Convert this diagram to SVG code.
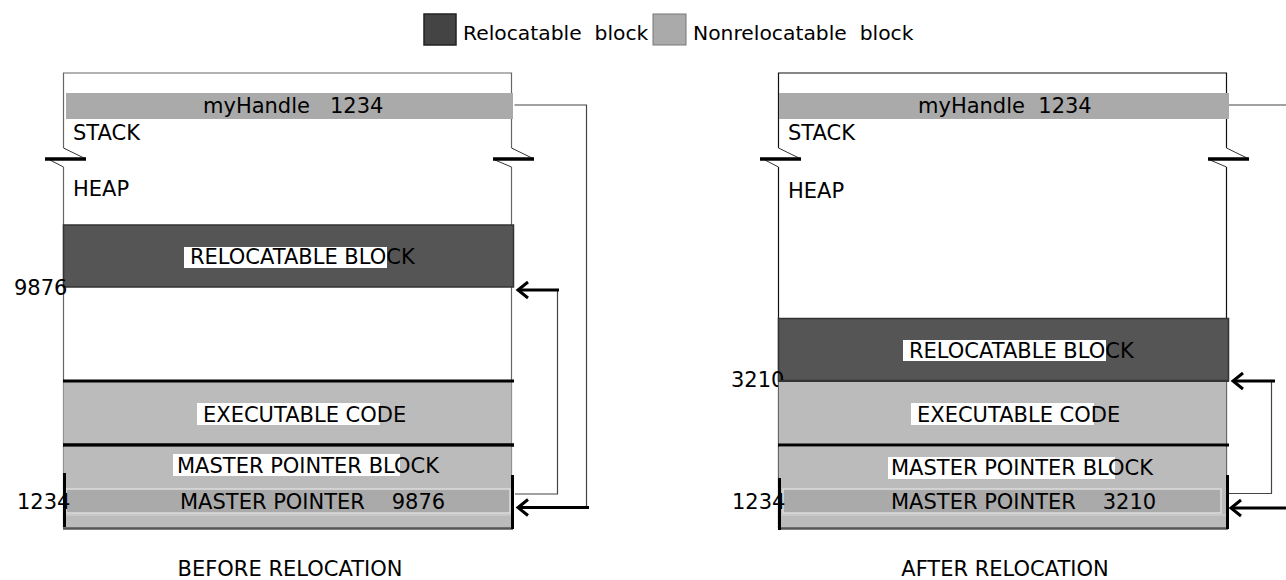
<svg xmlns="http://www.w3.org/2000/svg" width="1286" height="580" viewBox="0 0 1286 580">
<style>
text{font-family:"DejaVu Sans",Verdana,sans-serif;font-size:21px;fill:#000}
.lg{font-size:20.3px}
.edgeL{stroke:#666;stroke-width:1.2;fill:none}
.edgeR{stroke:#111;stroke-width:1.2;fill:none}
.brk{stroke:#000;stroke-width:3.5;fill:none}
.diag{stroke:#333;stroke-width:1;fill:none}
.sep{stroke:#000;stroke-width:3;fill:none}
.thin{stroke:#444;stroke-width:1.2;fill:none}
.arrow{stroke:#000;stroke-width:3;fill:none}
.dark{fill:#555;stroke:#333;stroke-width:1.5}
.light{fill:#bbb}
.band{fill:#aaa}
.row{fill:#aaa;stroke:#ddd;stroke-width:1.5}
.hl{fill:#fff}
.bottom{stroke:#555;stroke-width:2.5;fill:none}
.side{stroke:#000;stroke-width:3;fill:none}
</style>
<defs>
<marker id="ah" markerUnits="userSpaceOnUse" markerWidth="20" markerHeight="20" refX="0" refY="0" viewBox="-12 -10 14 20" orient="auto" overflow="visible">
<path d="M-10,-8 L0,0 L-10,8" fill="none" stroke="#000" stroke-width="3"/>
</marker>
</defs>
<rect width="1286" height="580" fill="#fff"/>

<g id="legend">
<rect x="424" y="14" width="32" height="31" fill="#444" stroke="#222" stroke-width="1.5"/>
<text class="lg" x="463" y="40" xml:space="preserve">Relocatable  block</text>
<rect x="653" y="14" width="33" height="31" fill="#aaa" stroke="#777" stroke-width="1"/>
<text class="lg" x="693" y="40" xml:space="preserve">Nonrelocatable  block</text>
</g>

<!-- BEFORE panel -->
<g id="before-frame">
<path class="edgeL" d="M63.5,148 V73 H511.5 V148"/>
<path class="edgeL" d="M63.5,167 V528 M511.5,167 V528"/>
<path class="diag" d="M63.5,148 L85,158.5 M50,160 L63.5,167"/>
<path class="brk" d="M45,159 H86"/>
<path class="diag" d="M511.5,148 L533,158.5 M495,160 L511.5,167"/>
<path class="brk" d="M493,159 H534"/>
<text x="73" y="140">STACK</text>
<text x="73" y="196">HEAP</text>
</g>
<g id="before-myhandle">
<rect class="band" x="66" y="93" width="447" height="26"/>
<text x="203" y="113" xml:space="preserve">myHandle   1234</text>
</g>
<g id="before-reloc">
<rect class="dark" x="63.5" y="225" width="450" height="62"/>
<rect class="hl" x="184" y="247" width="203" height="21"/>
<text x="190" y="264">RELOCATABLE BLOCK</text>
<text x="14" y="295">9876</text>
</g>
<g id="before-exec">
<rect class="light" x="63.5" y="381" width="448" height="64"/>
<path class="sep" d="M63,381 H514 M63,445 H514"/>
<rect class="hl" x="197" y="403" width="183" height="22"/>
<text x="203" y="422">EXECUTABLE CODE</text>
</g>
<g id="before-mpblock">
<rect class="light" x="63.5" y="446.5" width="448" height="82"/>
<path class="sep" d="M63,445 H514"/>
<path class="bottom" d="M63,528.5 H513"/>
<rect class="hl" x="173" y="454" width="227" height="22"/>
<text x="177" y="473">MASTER POINTER BLOCK</text>
</g>
<g id="before-mp">
<rect class="row" x="66" y="489" width="444" height="24"/>
<path d="M64,515 H511" stroke="#ccc" stroke-width="1.5"/>
<text x="180" y="509" xml:space="preserve">MASTER POINTER    9876</text>
<text x="17" y="509">1234</text>
<path class="side" d="M64.5,473 V527 M512.5,475 V529"/>
</g>
<text id="before-title" x="290" y="576" text-anchor="middle">BEFORE RELOCATION</text>

<!-- AFTER panel -->
<g id="after-frame">
<path class="edgeR" d="M778.5,148 V73 H1226.5 V148"/>
<path class="edgeR" d="M778.5,167 V528 M1226.5,167 V528"/>
<path class="diag" d="M778.5,148 L800,158.5 M765,160 L778.5,167"/>
<path class="brk" d="M760,159 H801"/>
<path class="diag" d="M1226.5,148 L1248,158.5 M1210,160 L1226.5,167"/>
<path class="brk" d="M1208,159 H1249"/>
<text x="788" y="140">STACK</text>
<text x="788" y="198">HEAP</text>
</g>
<g id="after-myhandle">
<rect class="band" x="779" y="93" width="450" height="26"/>
<text x="918" y="113" xml:space="preserve">myHandle  1234</text>
</g>
<g id="after-reloc">
<rect class="dark" x="778.5" y="318.5" width="450" height="62"/>
<rect class="hl" x="903" y="340" width="203" height="21"/>
<text x="909" y="358">RELOCATABLE BLOCK</text>
<text x="731" y="387">3210</text>
</g>
<g id="after-exec">
<rect class="light" x="778.5" y="382" width="448" height="63"/>
<path d="M778,381 H1229" stroke="#333" stroke-width="2"/>
<rect class="hl" x="911" y="403" width="183" height="22"/>
<text x="917" y="422">EXECUTABLE CODE</text>
</g>
<g id="after-mpblock">
<rect class="light" x="778.5" y="446.5" width="448" height="82"/>
<path class="sep" d="M778,445 H1229"/>
<path class="bottom" d="M778,528.5 H1228"/>
<rect class="hl" x="888" y="457" width="227" height="22"/>
<text x="891" y="475">MASTER POINTER BLOCK</text>
</g>
<g id="after-mp">
<rect class="row" x="783" y="489" width="438" height="24"/>
<path d="M779,515 H1226" stroke="#ccc" stroke-width="1.5"/>
<text x="891" y="509" xml:space="preserve">MASTER POINTER    3210</text>
<text x="732" y="509">1234</text>
<path class="side" d="M779.5,478 V530 M1227.5,475 V529"/>
</g>
<text id="after-title" x="1005" y="576" text-anchor="middle">AFTER RELOCATION</text>

<g id="connectors">
<path class="thin" d="M514.5,105 H586.5 V507.5"/>
<path class="arrow" d="M589,507.5 H518" marker-end="url(#ah)"/>
<path class="thin" d="M515,494 H557.5 V290"/>
<path class="arrow" d="M559,290 H518" marker-end="url(#ah)"/>
<path class="thin" d="M1229,105 H1290"/>
<path class="arrow" d="M1290,508 H1231" marker-end="url(#ah)"/>
<path class="thin" d="M1229,493.5 H1271.5 V381"/>
<path class="arrow" d="M1275,381 H1233" marker-end="url(#ah)"/>
</g>
</svg>
